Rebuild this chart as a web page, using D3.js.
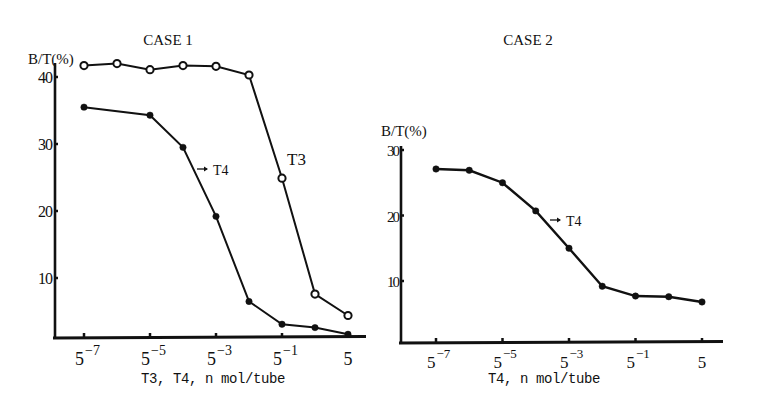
<!DOCTYPE html>
<html>
<head>
<meta charset="utf-8">
<script src="https://cdn.jsdelivr.net/npm/d3@7"></script>
<style>
  body { margin: 0; background: #fff; }
  svg { display: block; }
  text { font-family: "Liberation Serif", "DejaVu Serif", serif; fill: #111; }
</style>
</head>
<body>
<svg id="chart" width="759" height="393"></svg>
<script>
// exponents n for dose 5^n (n mol/tube)
const tickExps = [-7, -5, -3, -1, 1];

// case 1
const case1T3Exp = [-7, -6, -5, -4, -3, -2, -1, 0, 1];
const case1T3 = [41.7, 42.0, 41.1, 41.7, 41.6, 40.3, 24.9, 7.6, 4.4];
const case1T4Exp = [-7, -5, -4, -3, -2, -1, 0, 1];
const case1T4 = [35.5, 34.3, 29.5, 19.2, 6.5, 3.1, 2.6, 1.6];
const case1YTicks = [10, 20, 30, 40];

// case 2
const case2T4Exp = [-7, -6, -5, -4, -3, -2, -1, 0, 1];
const case2T4 = [27.1, 26.9, 25.0, 20.7, 15.0, 9.2, 7.7, 7.6, 6.8];
const case2YTicks = [10, 20, 30];

const svg = d3.select('#chart');
const ink = '#111';

function tickLabel(g, x, y, e, size) {
  if (e === 1) {
    g.append('text').attr('x', x).attr('y', y).attr('text-anchor', 'middle')
      .style('font-size', size + 'px').text('5');
    return;
  }
  const t = g.append('text').attr('x', x - 9).attr('y', y).style('font-size', size + 'px');
  t.append('tspan').text('5');
  t.append('tspan').attr('dy', -10).attr('dx', 1).style('font-size', (size - 4) + 'px').text('\u2212' + (-e));
}

function drawPanel(cfg) {
  const g = svg.append('g');
  const x = d3.scaleLinear().domain([-7, 1]).range(cfg.xRange);
  const y = d3.scaleLinear().domain(cfg.yDomain).range(cfg.yRange);

  // axes
  g.append('line').attr('x1', cfg.axisX).attr('x2', cfg.axisX)
    .attr('y1', cfg.axisTop).attr('y2', cfg.axisY + 1)
    .attr('stroke', ink).attr('stroke-width', 2.6);
  g.append('line').attr('x1', cfg.axisX - 2).attr('x2', cfg.axisRight)
    .attr('y1', cfg.axisY).attr('y2', cfg.axisY - 1.5)
    .attr('stroke', ink).attr('stroke-width', 3);

  // y ticks
  cfg.yTicks.forEach(v => {
    g.append('line').attr('x1', cfg.axisX).attr('x2', cfg.axisX + 3)
      .attr('y1', y(v)).attr('y2', y(v)).attr('stroke', ink).attr('stroke-width', 2.5);
    g.append('text').attr('x', cfg.axisX - 3).attr('y', y(v) + 6)
      .attr('text-anchor', 'end').style('font-size', cfg.ySize + 'px')
      .style('letter-spacing', cfg.ySpacing + 'px').text(v);
  });

  // x ticks
  tickExps.forEach(e => {
    g.append('line').attr('x1', x(e)).attr('x2', x(e))
      .attr('y1', cfg.axisY - 1).attr('y2', cfg.axisY - 5).attr('stroke', ink).attr('stroke-width', 2.5);
    tickLabel(g, x(e), cfg.tickBase, e, cfg.tickSize);
  });

  // titles
  g.append('text').attr('x', cfg.titleX).attr('y', 45).attr('text-anchor', 'middle')
    .style('font-size', '15px').text(cfg.title);
  g.append('text').attr('x', cfg.btX).attr('y', cfg.btY)
    .style('font-size', cfg.btSize + 'px').text('B/T(%)');
  g.append('text').attr('x', cfg.xTitleX).attr('y', 383).attr('text-anchor', 'middle')
    .style('font-size', '14px').style('font-family', '"Liberation Mono", monospace')
    .style('letter-spacing', '-0.4px').text(cfg.xTitle);

  // series
  cfg.series.forEach(s => {
    const pts = s.exp.map((e, i) => [x(e), y(s.values[i])]);
    g.append('path').attr('d', d3.line().curve(s.curve)(pts))
      .attr('fill', 'none').attr('stroke', ink).attr('stroke-width', cfg.lineW);
    g.selectAll(null).data(pts).enter().append('circle')
      .attr('cx', d => d[0]).attr('cy', d => d[1])
      .attr('r', s.open ? 3.6 : 3.2)
      .attr('fill', s.open ? '#fff' : ink)
      .attr('stroke', ink).attr('stroke-width', s.open ? 2 : 0.5);
  });

  // annotations
  cfg.notes.forEach(n => {
    if (n.arrow) {
      g.append('line').attr('x1', n.x - 16).attr('x2', n.x - 6)
        .attr('y1', n.y - 6).attr('y2', n.y - 6).attr('stroke', ink).attr('stroke-width', 1.3);
      g.append('path').attr('d', `M${n.x - 5},${n.y - 6} l-4,-2.5 l0,5 z`).attr('fill', ink);
    }
    g.append('text').attr('x', n.x).attr('y', n.y).style('font-size', n.size + 'px').text(n.text);
  });
}

drawPanel({
  title: 'CASE 1', titleX: 168,
  xRange: [84, 348], yDomain: [10, 40], yRange: [278, 77],
  axisX: 55, axisTop: 63, axisY: 338, axisRight: 366,
  yTicks: case1YTicks, ySize: 16, ySpacing: -1,
  tickBase: 365, tickSize: 18,
  btX: 28, btY: 64, btSize: 15,
  xTitle: 'T3, T4, n mol/tube', xTitleX: 213,
  lineW: 2,
  series: [
    { exp: case1T3Exp, values: case1T3, open: true, curve: d3.curveLinear },
    { exp: case1T4Exp, values: case1T4, open: false, curve: d3.curveLinear }
  ],
  notes: [
    { text: 'T3', x: 287, y: 165, size: 17 },
    { text: 'T4', x: 213, y: 175, size: 14, arrow: true }
  ]
});

drawPanel({
  title: 'CASE 2', titleX: 528,
  xRange: [436, 702], yDomain: [10, 30], yRange: [281, 150],
  axisX: 401, axisTop: 146, axisY: 343, axisRight: 723,
  yTicks: case2YTicks, ySize: 15, ySpacing: -2,
  tickBase: 368, tickSize: 17,
  btX: 381, btY: 136, btSize: 15,
  xTitle: 'T4, n mol/tube', xTitleX: 544,
  lineW: 2.4,
  series: [
    { exp: case2T4Exp, values: case2T4, open: false, curve: d3.curveLinear }
  ],
  notes: [
    { text: 'T4', x: 566, y: 226, size: 14, arrow: true }
  ]
});
</script>
</body>
</html>
